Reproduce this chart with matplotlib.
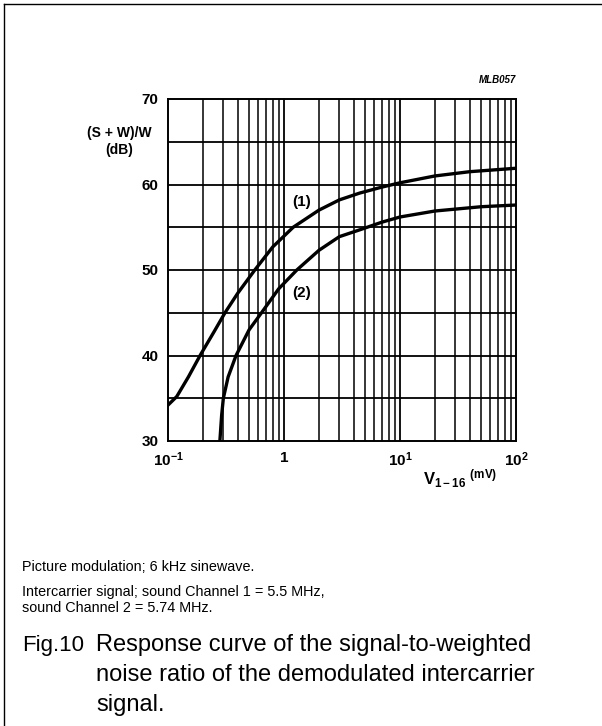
import matplotlib.pyplot as plt
from matplotlib.lines import Line2D

# values (V in mV, ratio in dB)
v1 = [0.1, 0.119, 0.15, 0.189, 0.25, 0.31, 0.4, 0.56, 0.8, 1.2, 2.0, 3.0, 4.5, 7, 10, 20, 40, 100]
snr1 = [34.2, 35.2, 37.5, 40, 42.8, 45, 47.3, 50, 52.7, 55, 57.0, 58.2, 59.0, 59.7, 60.2, 61.0, 61.5, 61.9]
v2 = [0.28, 0.29, 0.30, 0.33, 0.386, 0.5, 0.64, 0.9, 1.29, 2.0, 3.0, 4.5, 7, 10, 20, 50, 100]
snr2 = [30, 33, 35, 37.5, 40, 43, 45, 47.8, 50, 52.3, 53.9, 54.7, 55.6, 56.2, 56.9, 57.4, 57.6]

xticks = [0.1, 1, 10, 100]
xlabels = ['10$^{-1}$', '1', '10$^{1}$', '10$^{2}$']
yticks = [30, 40, 50, 60, 70]

plt.rcParams['font.family'] = ['Liberation Sans', 'DejaVu Sans']
plt.rcParams['mathtext.fontset'] = 'custom'
plt.rcParams['mathtext.rm'] = 'Liberation Sans:bold'
plt.rcParams['mathtext.it'] = 'Liberation Sans:bold'

fig = plt.figure(figsize=(6.02, 7.26), dpi=100)
ax = fig.add_axes([168/602, 1 - 441/726, 348/602, 342/726])

ax.set_xscale('log')
ax.set_xlim(0.1, 100)
ax.set_ylim(30, 70)

# grid: every 5 dB and every log minor step
for y in range(35, 70, 5):
    ax.axhline(y, color='black', lw=1.3, zorder=1)
for dec in [0.1, 1, 10]:
    for m in range(2, 10):
        ax.axvline(dec * m, color='black', lw=1.1, zorder=1)
for xv in [1, 10]:
    ax.axvline(xv, color='black', lw=1.3, zorder=1)

ax.plot(v1, snr1, color='black', lw=2.4, zorder=3)
ax.plot(v2, snr2, color='black', lw=2.4, zorder=3)

ax.text(1.43, 58.0, '(1)', fontsize=11, fontweight='bold', ha='center', va='center')
ax.text(1.43, 47.3, '(2)', fontsize=11, fontweight='bold', ha='center', va='center')

for s in ax.spines.values():
    s.set_linewidth(1.4)

ax.set_xticks(xticks)
ax.set_xticklabels(xlabels)
ax.set_xticks([], minor=True)
ax.set_yticks(yticks)
ax.set_yticklabels([str(t) for t in yticks])
ax.tick_params(length=0, labelsize=11, pad=7)
for lab in ax.get_xticklabels() + ax.get_yticklabels():
    lab.set_fontweight('bold')

fig.text(119/602, 1 - 133/726, '(S + W)/W', fontsize=10, fontweight='bold',
         ha='center', va='center')
fig.text(119/602, 1 - 150/726, '(dB)', fontsize=10, fontweight='bold',
         ha='center', va='center')
fig.text(460/602, 1 - 479/726, 'V$_{1-16}$ $^{(mV)}$', fontsize=12, fontweight='bold',
         ha='center', va='center')
fig.text(516/602, 1 - 80/726, 'MLB057', fontsize=7, fontweight='bold', style='italic',
         ha='right', va='center')

fig.text(22/602, 1 - 567/726, 'Picture modulation; 6 kHz sinewave.', fontsize=10.4, va='center')
fig.text(22/602, 1 - 592/726, 'Intercarrier signal; sound Channel 1 = 5.5 MHz,', fontsize=10.4, va='center')
fig.text(22/602, 1 - 608/726, 'sound Channel 2 = 5.74 MHz.', fontsize=10.4, va='center')

fig.text(22/602, 1 - 645/726, 'Fig.10', fontsize=16, va='center')
fig.text(96/602, 1 - 645/726, 'Response curve of the signal-to-weighted', fontsize=17, va='center')
fig.text(96/602, 1 - 675/726, 'noise ratio of the demodulated intercarrier', fontsize=17, va='center')
fig.text(96/602, 1 - 705/726, 'signal.', fontsize=17, va='center')

# page frame
fig.add_artist(Line2D([4/602, 4/602], [0, 1 - 4/726], transform=fig.transFigure, color='black', lw=1))
fig.add_artist(Line2D([4/602, 1], [1 - 4/726, 1 - 4/726], transform=fig.transFigure, color='black', lw=1))

fig.savefig('out.png', dpi=100)
